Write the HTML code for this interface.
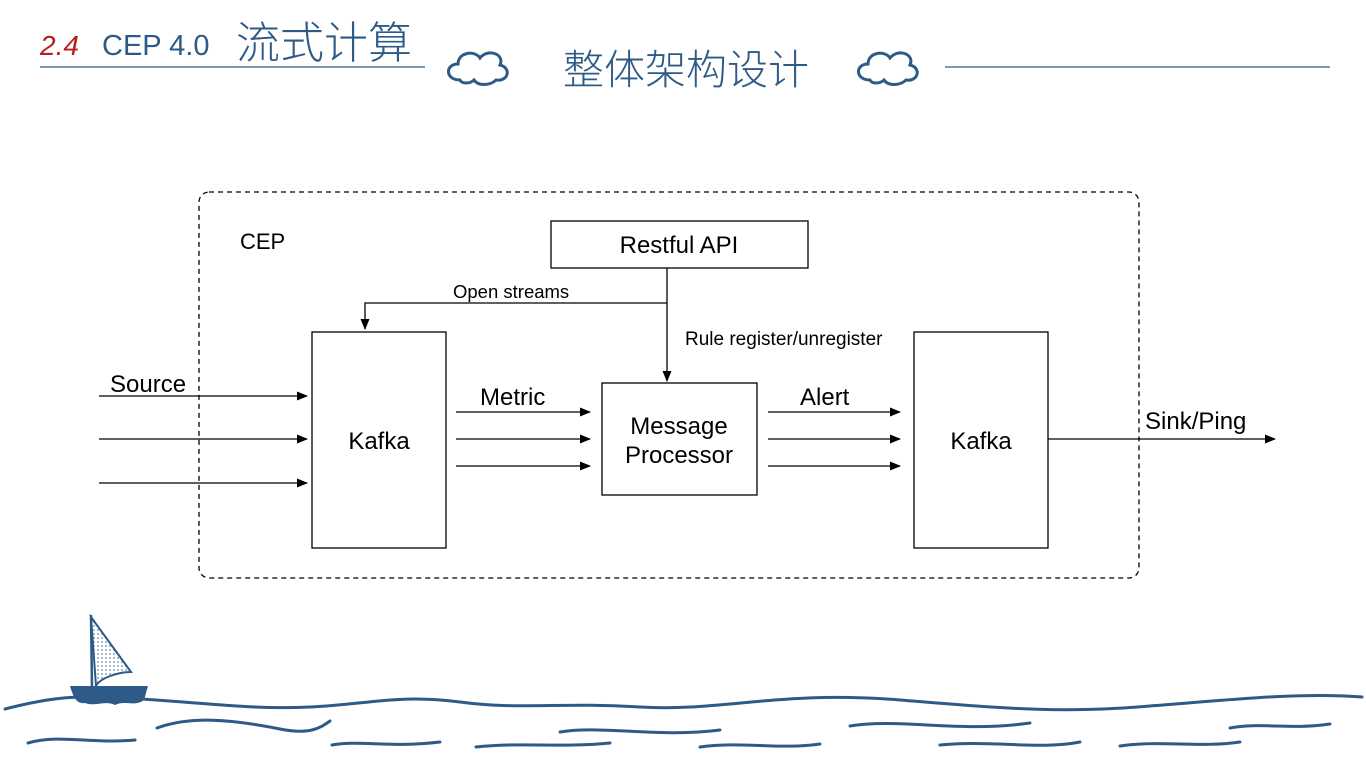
<!DOCTYPE html>
<html><head><meta charset="utf-8"><style>
html,body{margin:0;padding:0;background:#fff;}
svg{display:block;}
</style></head><body>
<svg width="1366" height="768" viewBox="0 0 1366 768" xmlns="http://www.w3.org/2000/svg">
<defs>
<marker id="a" markerWidth="11" markerHeight="9" refX="10" refY="4.5" orient="auto" markerUnits="userSpaceOnUse"><path d="M0,0 L11,4.5 L0,9 z" fill="#000"/></marker>
<pattern id="dots" width="4" height="4" patternUnits="userSpaceOnUse"><circle cx="2" cy="2" r="0.9" fill="#6a8bb0"/></pattern>
</defs>
<g font-family="'Liberation Sans','WenQuanYi Zen Hei',sans-serif">
<text x="40" y="55" font-size="28" fill="#b51e1e" font-style="italic">2.4</text>
<text x="102" y="55" font-size="29" fill="#2d5a86">CEP 4.0</text>
<text x="236" y="58" font-size="44" fill="#2d5a86" font-family="'Noto Sans CJK SC',sans-serif" font-weight="300">流式计算</text>
<line x1="40" y1="67" x2="425" y2="67" stroke="#2d5a86" stroke-width="1.3"/>
<line x1="945" y1="67" x2="1330" y2="67" stroke="#2d5a86" stroke-width="1.3"/>
<text x="563" y="84" font-size="41" fill="#2d5a86" font-family="'Noto Sans CJK SC',sans-serif" font-weight="300">整体架构设计</text>
<g fill="none" stroke="#2d5a86" stroke-width="3">
<path d="M460,80 C445,80 445,64 458,64 C458,52 475,50 480,58 C488,48 505,54 500,65 C512,68 508,82 496,80 C490,86 478,86 474,80 C470,84 462,84 460,80 Z"/>
<path d="M870,80 C855,80 855,64 868,64 C868,52 885,50 890,58 C898,48 915,54 910,65 C922,68 918,82 906,80 C900,86 888,86 884,80 C880,84 872,84 870,80 Z"/>
</g>
<rect x="199" y="192" width="940" height="386" rx="10" fill="none" stroke="#000" stroke-width="1.3" stroke-dasharray="5,4"/>
<text x="240" y="249" font-size="22">CEP</text>
<g fill="none" stroke="#000" stroke-width="1.3">
<rect x="551" y="221" width="257" height="47"/>
<rect x="312" y="332" width="134" height="216"/>
<rect x="914" y="332" width="134" height="216"/>
<rect x="602" y="383" width="155" height="112"/>
<line x1="667" y1="268" x2="667" y2="381" marker-end="url(#a)"/>
<polyline points="667,303 365,303 365,329" marker-end="url(#a)"/>
<line x1="99" y1="396" x2="307" y2="396" marker-end="url(#a)"/>
<line x1="99" y1="439" x2="307" y2="439" marker-end="url(#a)"/>
<line x1="99" y1="483" x2="307" y2="483" marker-end="url(#a)"/>
<line x1="456" y1="412" x2="590" y2="412" marker-end="url(#a)"/>
<line x1="456" y1="439" x2="590" y2="439" marker-end="url(#a)"/>
<line x1="456" y1="466" x2="590" y2="466" marker-end="url(#a)"/>
<line x1="768" y1="412" x2="900" y2="412" marker-end="url(#a)"/>
<line x1="768" y1="439" x2="900" y2="439" marker-end="url(#a)"/>
<line x1="768" y1="466" x2="900" y2="466" marker-end="url(#a)"/>
<line x1="1048" y1="439" x2="1275" y2="439" marker-end="url(#a)"/>
</g>
<text x="679" y="253" font-size="24" text-anchor="middle">Restful API</text>
<text x="453" y="298" font-size="18.5">Open streams</text>
<text x="685" y="345" font-size="19">Rule register/unregister</text>
<text x="110" y="392" font-size="24">Source</text>
<text x="480" y="405" font-size="24">Metric</text>
<text x="800" y="405" font-size="24">Alert</text>
<text x="1145" y="429" font-size="24">Sink/Ping</text>
<text x="379" y="449" font-size="24" text-anchor="middle">Kafka</text>
<text x="981" y="449" font-size="24" text-anchor="middle">Kafka</text>
<text x="679" y="434" font-size="24" text-anchor="middle">Message</text>
<text x="679" y="463" font-size="24" text-anchor="middle">Processor</text>
</g>
<g fill="none" stroke="#2d5a86" stroke-width="3" stroke-linecap="round">
<path d="M5,709 C40,700 70,695 110,697 C200,702 250,710 310,707 C370,704 400,694 460,702 C520,710 560,702 640,707 C720,712 780,690 900,700 C1000,708 1060,714 1150,706 C1230,700 1300,692 1362,697"/>
<path d="M157,728 C190,716 230,719 280,729 C310,735 320,728 330,721"/>
<path d="M28,743 C60,734 90,744 135,740"/>
<path d="M332,745 C360,740 390,748 440,742"/>
<path d="M476,747 C520,742 560,748 610,743"/>
<path d="M560,732 C600,725 660,738 720,730"/>
<path d="M700,747 C740,741 780,750 820,744"/>
<path d="M850,726 C900,718 960,733 1030,723"/>
<path d="M940,745 C990,740 1040,750 1080,742"/>
<path d="M1120,746 C1160,740 1200,748 1240,742"/>
<path d="M1230,728 C1260,722 1290,730 1330,724"/>
</g>
<path d="M91,617 L131,672 C118,672 100,678 96,686 Z" fill="url(#dots)" stroke="#2d5a86" stroke-width="2"/>
<line x1="91" y1="615" x2="92" y2="688" stroke="#2d5a86" stroke-width="2.5"/>
<path d="M70,686 L148,686 L144,700 C135,707 125,700 115,705 C105,700 95,707 85,703 C78,704 74,700 70,686 Z" fill="#2d5a86"/>
</svg>
</body></html>
